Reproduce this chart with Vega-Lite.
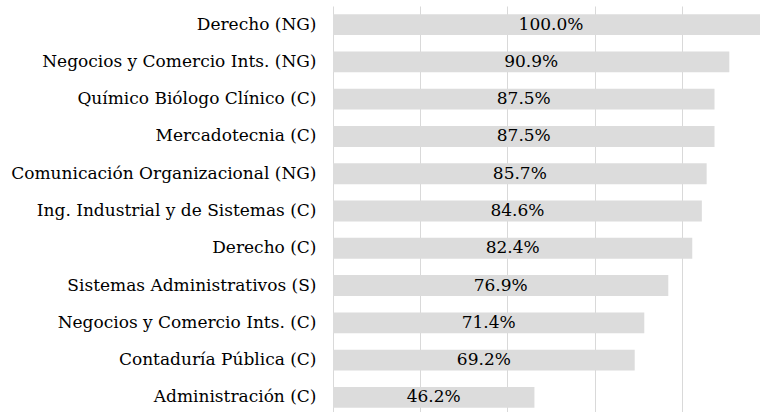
{
  "$schema": "https://vega.github.io/schema/vega-lite/v6.json",
  "autosize": "none",
  "width": 436,
  "height": 410,
  "padding": {"left": 333, "top": 6, "right": 0, "bottom": 0},
  "background": "white",
  "config": {"view": {"stroke": null}},
  "data": {"values": [
    {"carrera": "Derecho (NG)", "v": 1.0},
    {"carrera": "Negocios y Comercio Ints. (NG)", "v": 0.909},
    {"carrera": "Químico Biólogo Clínico (C)", "v": 0.875},
    {"carrera": "Mercadotecnia (C)", "v": 0.875},
    {"carrera": "Comunicación Organizacional (NG)", "v": 0.857},
    {"carrera": "Ing. Industrial y de Sistemas (C)", "v": 0.846},
    {"carrera": "Derecho (C)", "v": 0.824},
    {"carrera": "Sistemas Administrativos (S)", "v": 0.769},
    {"carrera": "Negocios y Comercio Ints. (C)", "v": 0.714},
    {"carrera": "Contaduría Pública (C)", "v": 0.692},
    {"carrera": "Administración (C)", "v": 0.462}
  ]},
  "encoding": {
    "y": {
      "field": "carrera", "type": "nominal", "sort": null,
      "scale": {"paddingInner": 0.44, "paddingOuter": 0.22},
      "axis": {"title": null, "ticks": false, "domain": false, "labelPadding": 17,
        "labelFont": "DejaVu Serif", "labelFontSize": 17, "labelColor": "#000000", "labelLimit": 400}
    }
  },
  "layer": [
    {
      "mark": {"type": "bar", "color": "#dcdcdc"},
      "encoding": {
        "x": {"field": "v", "type": "quantitative",
          "scale": {"domain": [0, 1], "nice": false},
          "axis": {"title": null, "labels": false, "ticks": false, "domain": false,
            "grid": true, "gridColor": "#d9d9d9", "gridWidth": 1, "values": [0, 0.2, 0.4, 0.6, 0.8, 1.0]}}
      }
    },
    {
      "mark": {"type": "text", "font": "DejaVu Serif", "fontSize": 17, "color": "#000000", "align": "center", "baseline": "middle"},
      "encoding": {
        "x": {"field": "v", "type": "quantitative", "scale": {"domain": [0, 2], "nice": false}, "axis": null},
        "text": {"field": "v", "type": "quantitative", "format": ".1%"}
      }
    }
  ],
  "resolve": {"scale": {"x": "independent"}}
}
